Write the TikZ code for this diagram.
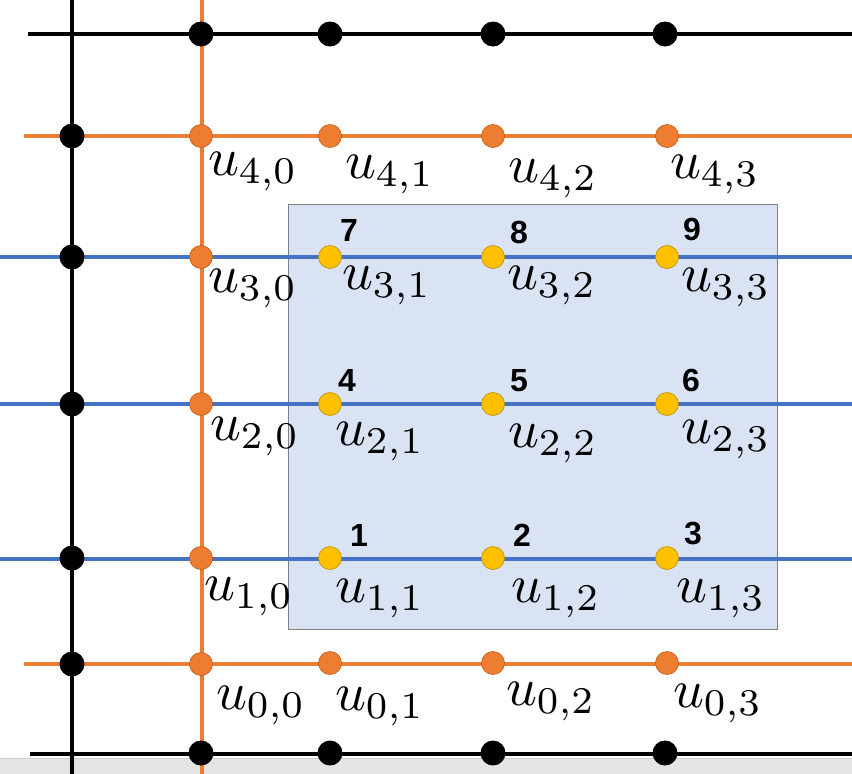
\documentclass[tikz,border=0pt]{standalone}
\usepackage{fontspec}
\newfontfamily\numfont{Liberation Sans}
\usepackage{tikz}

\definecolor{gridorange}{HTML}{ED7D31}
\definecolor{orangeedge}{HTML}{C55A11}
\definecolor{gridblue}{HTML}{4472C4}
\definecolor{dotyellow}{HTML}{FFC000}
\definecolor{yellowedge}{HTML}{BF9000}
\definecolor{boxfill}{HTML}{DAE3F3}

\begin{document}
\begin{tikzpicture}[x=1pt, y=-1pt,
  gridline/.style={line width=3.6pt},
  bdot/.style={circle, fill=black, minimum size=25pt, inner sep=0pt},
  odot/.style={circle, fill=gridorange, draw=orangeedge, line width=0.6pt,
               minimum size=23pt, inner sep=0pt},
  ydot/.style={circle, fill=dotyellow, draw=yellowedge, line width=0.6pt,
               minimum size=23pt, inner sep=0pt},
  lab/.style={anchor=base west, inner sep=0pt, scale=5.4},
  num/.style={inner sep=0pt, font=\numfont\bfseries\fontsize{32}{36}\selectfont}
]
\useasboundingbox (0,0) rectangle (852,774);

% window strip and interior block
\fill[black!10] (0,758) rectangle (852,774);
\draw[black!20] (0,758) -- (852,758);
\draw[black!50, fill=boxfill] (288,204) rectangle (777,629);

% horizontal grid lines
\foreach \name/\y/\xs/\col in {top/34/28/black, r4/136/24/gridorange,
    r3/257/0/gridblue, r2/404/0/gridblue, r1/559/0/gridblue,
    r0/664/24/gridorange, bot/754/30/black}
{
  \coordinate (\name-w) at (\xs,\y);
  \coordinate (\name-e) at (852,\y);
  \draw[gridline, \col] (\name-w) -- (\name-e);
}

% vertical grid lines
\coordinate (outer-n) at (72,0);
\coordinate (outer-s) at (72,774);
\coordinate (edge-n) at (202,0);
\coordinate (edge-s) at (202,774);
\draw[gridline, black] (outer-n) -- (outer-s);
\draw[gridline, gridorange] (edge-n) -- (edge-s);

% ghost points
\foreach \j/\x in {0/201,1/330,2/493,3/665}{
  \node[bdot] (t\j) at (\x,34) {};
  \node[bdot] (b\j) at (\x,753) {};
}
\foreach \i/\y in {0/664,1/558,2/404,3/257,4/136}
  \node[bdot] (w\i) at (72,\y) {};

% boundary points
\foreach \i/\y in {0/664,1/558,2/404,3/257,4/136}
  \node[odot] (u\i0) at (201,\y) {};
\foreach \j/\x in {1/330,2/493,3/667}{
  \node[odot] (u0\j) at (\x,663) {};
  \node[odot] (u4\j) at (\x,136) {};
}

% unknowns
\foreach \i/\y in {1/558,2/404,3/257}
  \foreach \j/\x in {1/330,2/493,3/667}
    \node[ydot] (u\i\j) at (\x,\y) {};

% numbering
\foreach \k/\x/\y in {1/359/535, 2/522/535, 3/693/534,
    4/347/380, 5/519/381, 6/691/380,
    7/349/230, 8/519/232, 9/692/229}
  \node[num] (n\k) at (\x,\y) {\k};

% labels
\foreach \i/\j/\x/\y in {4/0/207/175, 4/1/344/178, 4/2/507/182, 4/3/669/178,
    3/0/207/292, 3/1/341/289, 3/2/506/289, 3/3/680/291,
    2/0/209/440, 2/1/334/445, 2/2/507/447, 2/3/680/443,
    1/0/203/600, 1/1/334/602, 1/2/510/602, 1/3/675/602,
    0/0/215/709, 0/1/334/710, 0/2/505/705, 0/3/672/707}
  \node[lab] (l\i\j) at (\x,\y) {$u_{\i,\j}$};

\end{tikzpicture}
\end{document}
